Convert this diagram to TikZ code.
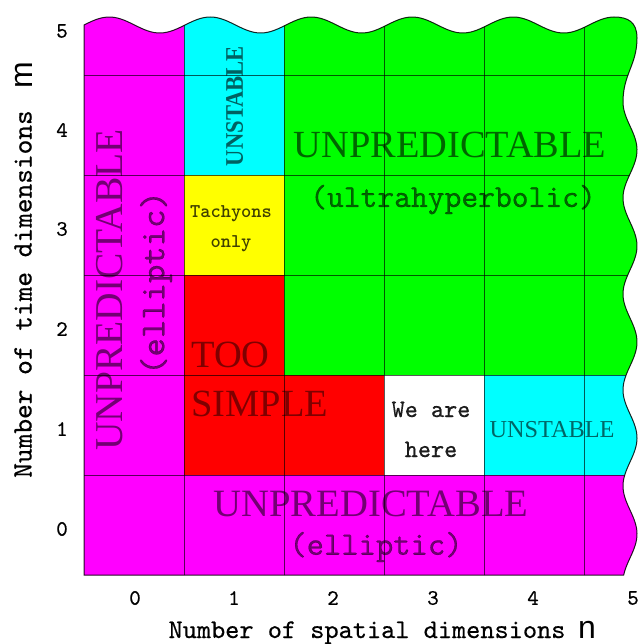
\documentclass[tikz,border=0pt]{standalone}
\usepackage{fontspec}
\usepackage{graphicx}
\newfontfamily\axsans{Liberation Sans}
\newfontfamily\tnr{Liberation Serif}
\newfontfamily\ttm{lmmono10-regular.otf}[FakeBold=0.5]
\definecolor{cMag}{HTML}{FF00FF}
\definecolor{cCyan}{HTML}{00FFFF}
\definecolor{cGreen}{HTML}{00FF00}
\definecolor{cYellow}{HTML}{FFFF00}
\definecolor{cRed}{HTML}{FF0000}
\tikzset{
  gridline/.style={draw=black, draw opacity=0.65, line width=0.9pt},
  outlinestyle/.style={draw=black, draw opacity=0.85, line width=1pt},
  biglabel/.style={inner sep=0pt, text=black, text opacity=0.55},
  ticklabel/.style={inner sep=0pt, font=\ttm\fontsize{22}{22}\selectfont},
}
\newcommand\plotoutline[1]{%
  \path[#1] (84,575) -- (84,25)
    -- plot[variable=\t, domain=84:614, samples=160, smooth] (\t,{25-8*sin(3.5644*(\t-84))})
    .. controls (628,17) and (637,22) .. (637,38)
    .. controls (637,65) and (623,74) .. (623,102)
    -- plot[variable=\t, domain=102:575, samples=160, smooth] ({630+7*cos(3.75*(\t-150))},\t)
    -- cycle;}
\begin{document}
\begin{tikzpicture}[x=1pt,y=-1pt]
\useasboundingbox (0,0) rectangle (639,644);
\fill[white] (0,0) rectangle (639,644);
\begin{scope}
  \plotoutline{clip}
  \fill[cGreen] (284,0) rectangle (650,375);
  \fill[cMag] (84,0) rectangle (184,580);
  \fill[cMag] (84,475) rectangle (650,580);
  \fill[cCyan] (184,0) rectangle (284,175);
  \fill[cYellow] (184,175) rectangle (284,275);
  \fill[cRed] (184,275) rectangle (284,475);
  \fill[cRed] (284,375) rectangle (384,475);
  \fill[white] (384,375) rectangle (484,475);
  \fill[cCyan] (484,375) rectangle (650,475);
  \foreach \gx in {184,284,384,484,584} \draw[gridline] (\gx,0) -- (\gx,580);
  \foreach \gy in {75,175,275,375,475} \draw[gridline] (80,\gy) -- (650,\gy);
\end{scope}
\plotoutline{outlinestyle}

% axis tick labels
\node[ticklabel] (y5) at (62,31) {5};
\node[ticklabel] (y4) at (62,130) {4};
\node[ticklabel] (y3) at (62,229) {3};
\node[ticklabel] (y2) at (62,329) {2};
\node[ticklabel] (y1) at (62,429) {1};
\node[ticklabel] (y0) at (62,529) {0};
\node[ticklabel] (x0) at (135,598) {0};
\node[ticklabel] (x1) at (234,598) {1};
\node[ticklabel] (x2) at (333,598) {2};
\node[ticklabel] (x3) at (433,598) {3};
\node[ticklabel] (x4) at (533,598) {4};
\node[ticklabel] (x5) at (633,598) {5};

% axis titles
\node[inner sep=0pt, rotate=90, font=\ttm\fontsize{28}{28}\selectfont] (ytitle) at (23,294) {Number of time dimensions};
\node[inner sep=0pt, rotate=90, font=\axsans\fontsize{32}{32}\selectfont] (ym) at (24,75) {m};
\node[inner sep=0pt, anchor=base, font=\ttm\fontsize{27}{27}\selectfont] (xtitle) at (367,638) {Number of spatial dimensions};
\node[inner sep=0pt, anchor=base, font=\axsans\fontsize{32}{32}\selectfont] (xn) at (587,638) {n};

% region labels
\node[biglabel, text opacity=0.6, anchor=base, font=\tnr\fontsize{38.4}{40}\selectfont] (ultraA) at (450,158) {UNPREDICTABLE};
\node[biglabel, text opacity=0.6, anchor=base, font=\ttm\fontsize{32}{32}\selectfont] (ultraB) at (453,207) {(ultrahyperbolic)};

\node[biglabel, rotate=90, font=\tnr\fontsize{39.5}{40}\selectfont] (leftA) at (110,290) {UNPREDICTABLE};
\node[biglabel, rotate=90, font=\ttm\fontsize{35}{35}\selectfont] (leftB) at (156,283) {(elliptic)};

\node[biglabel, anchor=base, font=\tnr\fontsize{38.7}{40}\selectfont] (botA) at (371,516) {UNPREDICTABLE};
\node[biglabel, font=\ttm\fontsize{33}{33}\selectfont] (botB) at (376,547) {(elliptic)};

\node[biglabel, text opacity=0.5, anchor=base west, font=\tnr\fontsize{38.5}{40}\selectfont] (tooA) at (191,367) {TOO};
\node[biglabel, text opacity=0.5, anchor=base west, font=\tnr\fontsize{38.5}{40}\selectfont] (tooB) at (191,416) {SIMPLE};

\node[inner sep=0pt, text=black, text opacity=0.62, rotate=90] (unstA) at (234.5,106)
  {\scalebox{1}[1.12]{\tnr\bfseries\fontsize{22.6}{24}\selectfont UNSTABLE}};
\node[inner sep=0pt, text=black, text opacity=0.6, anchor=base, font=\tnr\fontsize{24.3}{25}\selectfont] (unstB) at (552,437) {UNSTABLE};

\node[inner sep=0pt, text=black, text opacity=0.75, anchor=base, font=\ttfamily\bfseries\fontsize{19.5}{20}\selectfont] (tachA) at (231,217) {Tachyons};
\node[inner sep=0pt, text=black, text opacity=0.75, anchor=base, font=\ttfamily\bfseries\fontsize{19.5}{20}\selectfont] (tachB) at (231,247) {only};

\node[inner sep=0pt, text=black, text opacity=0.88, anchor=base, font=\ttm\fontsize{25}{25}\selectfont] (hereA) at (431,417) {We are};
\node[inner sep=0pt, text=black, text opacity=0.88, anchor=base, font=\ttm\fontsize{25}{25}\selectfont] (hereB) at (431,457) {here};
\end{tikzpicture}
\end{document}
